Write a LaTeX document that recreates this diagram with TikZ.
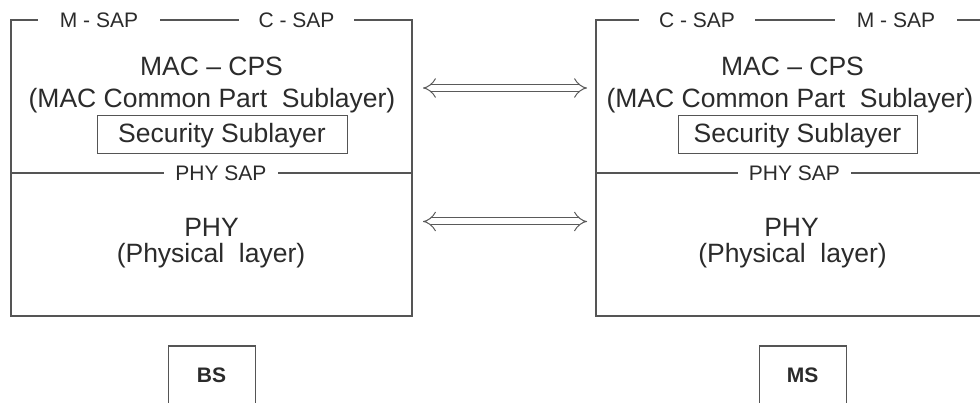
\documentclass[tikz,border=0pt]{standalone}
\usepackage{fontspec}
\setmainfont{Liberation Sans}
\usetikzlibrary{arrows.meta}
\definecolor{ln}{HTML}{555555}
\definecolor{tx}{HTML}{2B2B2B}
\definecolor{ar}{HTML}{5A5A5A}
\begin{document}
\begin{tikzpicture}[x=1pt,y=-1pt,
  frame/.style={draw=ln, line width=1.2pt},
  big/.style={font=\fontsize{26.5}{30}\selectfont, text=tx, inner sep=0pt, anchor=base},
  sap/.style={font=\fontsize{21}{25}\selectfont, text=tx, fill=white, inner ysep=1pt, inner xsep=#1},
  secbox/.style={draw=ln, line width=1pt, font=\fontsize{26.5}{30}\selectfont, text=tx,
    minimum height=38pt, inner xsep=0pt, text height=19pt, text depth=3pt},
  stbox/.style={draw=ln, line width=1pt, font=\bfseries\fontsize{21}{25}\selectfont, text=tx,
    minimum width=87pt, minimum height=70pt, text height=15pt, text depth=13pt, inner sep=0pt},
  dblarrow/.style={draw=ar, line width=1pt, double=white, double distance=6pt,
    {Implies[scale=1.3]}-{Implies[scale=1.3]}}
]
\useasboundingbox (0,0) rectangle (980,403);
\clip (0,0) rectangle (980,403);
\fill[white] (0,0) rectangle (980,403);

% left stack (BS)
\draw[frame] (11,316) -- (11,20) -- (412,20) -- (412,316) -- cycle;
\draw[frame] (11,173) -- (412,173);
\node[sap=22pt] (msapL) at (99,20) {M - SAP};
\node[sap=20pt] (csapL) at (296.5,20) {C - SAP};
\node[sap=11pt] (physapL) at (221,173) {PHY SAP};
\node[big] (macL) at (211.5,75.5) {MAC – CPS};
\node[big] (mcpsL) at (212,107.5) {(MAC Common Part\ \ Sublayer)};
\node[secbox, minimum width=250pt] (secL) at (222,135) {Security Sublayer};
\node[big] (phyL) at (211.5,237) {PHY};
\node[big] (physL) at (211,262.5) {(Physical\ \ layer)};
\node[stbox] (bs) at (211.5,381) {BS};

% right stack (MS)
\draw[frame] (990,20) -- (596,20) -- (596,316) -- (990,316);
\draw[frame] (596,173) -- (990,173);
\node[sap=20pt] (csapR) at (697,20) {C - SAP};
\node[sap=22pt] (msapR) at (896,20) {M - SAP};
\node[sap=11pt] (physapR) at (794.5,173) {PHY SAP};
\node[big] (macR) at (792.5,75.5) {MAC – CPS};
\node[big] (mcpsR) at (790,107.5) {(MAC Common Part\ \ Sublayer)};
\node[secbox, minimum width=239pt] (secR) at (797.5,135) {Security Sublayer};
\node[big] (phyR) at (791.5,237) {PHY};
\node[big] (physR) at (792.5,262.5) {(Physical\ \ layer)};
\node[stbox] (ms) at (802.5,381) {MS};

% peer arrows
\coordinate (a1l) at (423,88);
\coordinate (a1r) at (587,88);
\coordinate (a2l) at (423,221.5);
\coordinate (a2r) at (587,221.5);
\draw[dblarrow] (a1l) -- (a1r);
\draw[dblarrow] (a2l) -- (a2r);
\end{tikzpicture}
\end{document}
